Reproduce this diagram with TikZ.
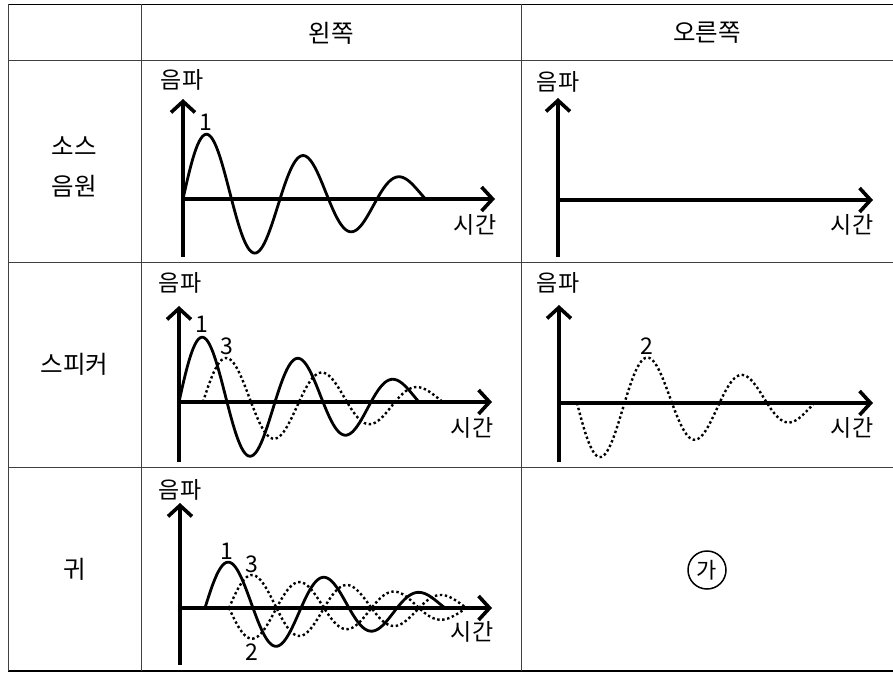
\documentclass[tikz,border=0pt]{standalone}
\usepackage{fontspec}
\setmainfont{Noto Sans CJK KR}
\usetikzlibrary{arrows.meta}

\begin{document}
\begin{tikzpicture}[
    x=1pt, y=-1pt,
    grid/.style={line width=1pt, black!75},
    frame/.style={line width=1.8pt},
    axis/.style={line width=3.6pt, -{Straight Barb[length=11pt, width=24pt]}},
    wave/.style={line width=2.8pt, smooth, samples=150},
    echo/.style={line width=2.4pt, dash pattern=on 2.4pt off 2.6pt, smooth, samples=150},
    head/.style={font=\fontsize{24.5}{40}\selectfont, align=center},
    lbl/.style={font=\fontsize{23}{24}\selectfont, inner sep=0pt}
]

\useasboundingbox (0,0) rectangle (893,674);

\draw[frame] (8,4.5) -- (893,4.5);
\draw[frame] (8,671) -- (893,671);
\draw[grid] (8,61) -- (893,61);
\draw[grid] (8,262) -- (893,262);
\draw[grid] (8,467) -- (893,467);
\draw[grid] (8,4.5) -- (8,671);
\draw[grid] (141,4.5) -- (141,671);
\draw[grid] (521,4.5) -- (521,671);

\node[head] (hL) at (331,33) {왼쪽};
\node[head] (hR) at (707,33) {오른쪽};
\node[head] (rSrc) at (74.5,167) {소스\\음원};
\node[head] (rSpk) at (74.5,364) {스피커};
\node[head] (rEar) at (74.5,569) {귀};

\coordinate (oA) at (183,199);
\coordinate (oB) at (558,200);
\coordinate (oC) at (179,402);
\coordinate (oD) at (559,403);
\coordinate (oE) at (180,608);

\draw[axis] (183,257) -- (183,99);
\draw[axis] (oA) -- (495,199);
\draw[axis] (558,257) -- (558,98);
\draw[axis] (oB) -- (873,200);
\draw[axis] (179,462) -- (179,306);
\draw[axis] (oC) -- (492,402);
\draw[axis] (559,462) -- (559,305);
\draw[axis] (oD) -- (873,403);
\draw[axis] (180,665) -- (180,503);
\draw[axis] (oE) -- (492,608);

\node[lbl] (yA) at (182,80) {음파};
\node[lbl] (tA) at (475,225) {시간};
\node[lbl] (yB) at (558,82) {음파};
\node[lbl] (tB) at (852,225) {시간};
\node[lbl] (yC) at (180,283) {음파};
\node[lbl] (tC) at (472,428) {시간};
\node[lbl] (yD) at (558,283) {음파};
\node[lbl] (tD) at (852,428) {시간};
\node[lbl] (yE) at (180,490) {음파};
\node[lbl] (tE) at (472,632) {시간};

\draw[wave] plot[domain=183:425.5] (\x, {199 - (70-0.22*(\x-183))*sin((\x-183)/97*360)});
\node[lbl] (nA1) at (206,122) {1};

\draw[wave] plot[domain=179:419] (\x, {402 - (70-0.22*(\x-179))*sin((\x-179)/96*360)});
\draw[echo] plot[domain=203:443] (\x, {402 - (47.6-0.152*(\x-203))*sin((\x-203)/96*360)});
\node[lbl] (nC1) at (202,324) {1};
\node[lbl] (nC3) at (227,346) {3};

\draw[echo] plot[domain=577:814.5] (\x, {403 + (58.4-0.183*(\x-577))*sin((\x-577)/95*360)});
\node[lbl] (nD2) at (647,346) {2};

\draw[wave] plot[domain=205:445] (\x, {608 - (49.6-0.158*(\x-205))*sin((\x-205)/96*360)});
\draw[echo] plot[domain=229:466.5] (\x, {608 - (35.4-0.105*(\x-229))*sin((\x-229)/95*360)});
\draw[echo] plot[domain=229:466.5] (\x, {608 + (33-0.1*(\x-229))*sin((\x-229)/95*360)});
\node[lbl] (nE1) at (227,551) {1};
\node[lbl] (nE3) at (252,564) {3};
\node[lbl] (nE2) at (252,652) {2};

\node[draw, circle, line width=1.5pt, minimum size=38pt, inner sep=0pt, font=\fontsize{22}{24}\selectfont] (ga) at (707,570) {가};

\end{tikzpicture}
\end{document}
